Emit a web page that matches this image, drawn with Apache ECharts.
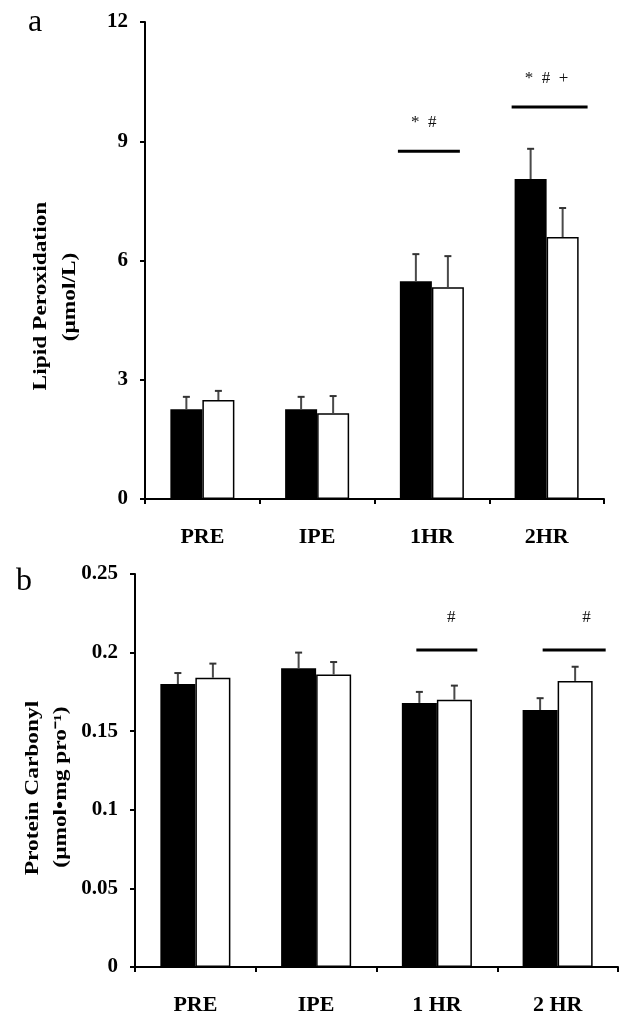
<!DOCTYPE html>
<html>
<head>
<meta charset="utf-8">
<script src="https://cdn.jsdelivr.net/npm/echarts@6/dist/echarts.min.js"></script>
<style>
html,body{margin:0;padding:0;background:#fff;}
#chart{width:637px;height:1028px;}
</style>
</head>
<body>
<div id="chart"></div>
<script>
// ---- data ----
const categoriesA = ['PRE', 'IPE', '1HR', '2HR'];
const categoriesB = ['PRE', 'IPE', '1 HR', '2 HR'];
const ticksA = [0, 3, 6, 9, 12];
const ticksB = [0, 0.05, 0.1, 0.15, 0.2, 0.25];

const lipidBlack = [2.26, 2.26, 5.48, 8.05];
const lipidBlackSE = [0.31, 0.31, 0.68, 0.76];
const lipidWhite = [2.49, 2.16, 5.33, 6.59];
const lipidWhiteSE = [0.23, 0.43, 0.78, 0.73];

const carbBlack = [0.180, 0.190, 0.168, 0.1635];
const carbBlackSE = [0.007, 0.010, 0.007, 0.0075];
const carbWhite = [0.184, 0.186, 0.170, 0.182];
const carbWhiteSE = [0.009, 0.008, 0.009, 0.009];

const sigCatsA = [2, 3];
const sigLevelsA = [8.75, 9.86];
const sigLabelLevelsA = [9.46, 10.59];
const sigLabelsA = ['*\u00a0\u00a0#', '*\u00a0\u00a0#\u00a0\u00a0+'];

const sigCatsB = [2, 3];
const sigLevelsB = [0.2017, 0.2017];
const sigLabelLevelsB = [0.2226, 0.2226];
const sigLabelsB = ['#', '#'];

// ---- layout constants (band-width fractions) ----
const barPctA = 0.279, barPctB = 0.29;
const sigSpanA = [[-0.296, 0.244], [-0.305, 0.357]];
const sigTextOffA = [-0.07, 0.0];
const sigSpanB = [[-0.17, 0.335], [-0.124, 0.398]];
const sigTextOffB = [0.12, 0.24];

const SERIF = '"Liberation Serif", "Times New Roman", serif';

function errData(means, ses) {
  return means.map((m, i) => [i, m, m + ses[i]]);
}
function errRender(side, pct) {
  return function (params, api) {
    const cat = api.value(0), mean = api.value(1), up = api.value(2);
    const band = api.size([1, 0])[0];
    const p0 = api.coord([cat, mean]);
    const p1 = api.coord([cat, up]);
    const x = p0[0] + side * band * pct / 2;
    return {
      type: 'group',
      children: [
        { type: 'line', shape: { x1: x, y1: p0[1], x2: x, y2: p1[1] }, style: { stroke: '#4a4a4a', lineWidth: 2 } },
        { type: 'line', shape: { x1: x - 3.5, y1: p1[1], x2: x + 3.5, y2: p1[1] }, style: { stroke: '#333', lineWidth: 2 } }
      ]
    };
  };
}
function sigData(cats, levels, labelLevels) {
  return cats.map((c, i) => [c, levels[i], labelLevels[i], i]);
}
function sigRender(spans, offs, labels) {
  return function (params, api) {
    const cat = api.value(0), lvl = api.value(1), tl = api.value(2), k = api.value(3);
    const band = api.size([1, 0])[0];
    const p = api.coord([cat, lvl]);
    const t = api.coord([cat, tl]);
    return {
      type: 'group',
      children: [
        { type: 'line', shape: { x1: p[0] + spans[k][0] * band, y1: p[1], x2: p[0] + spans[k][1] * band, y2: p[1] },
          style: { stroke: '#000', lineWidth: 3 } },
        { type: 'text', x: t[0] + offs[k] * band, y: t[1],
          style: { text: labels[k], fill: '#111', font: '17px ' + SERIF, align: 'center', verticalAlign: 'middle' } }
      ]
    };
  };
}

const axisLabelCat = { color: '#000', fontFamily: SERIF, fontWeight: 'bold', fontSize: 22, margin: 27 };
const axisLabelVal = { color: '#000', fontFamily: SERIF, fontWeight: 'bold', fontSize: 21, margin: 17 };

const chart = echarts.init(document.getElementById('chart'), null, { renderer: 'canvas' });
chart.setOption({
  backgroundColor: '#fff',
  animation: false,
  grid: [
    { left: 145, top: 22, width: 459, height: 477 },
    { left: 135, top: 574, width: 483, height: 393 }
  ],
  xAxis: [
    { type: 'category', gridIndex: 0, data: categoriesA,
      axisLine: { lineStyle: { color: '#000', width: 2 } },
      axisTick: { show: true, length: 5, lineStyle: { color: '#000', width: 2 } },
      axisLabel: axisLabelCat },
    { type: 'category', gridIndex: 1, data: categoriesB,
      axisLine: { lineStyle: { color: '#000', width: 2 } },
      axisTick: { show: true, length: 5, lineStyle: { color: '#000', width: 2 } },
      axisLabel: axisLabelCat }
  ],
  yAxis: [
    { type: 'value', gridIndex: 0, min: ticksA[0], max: ticksA[ticksA.length - 1], interval: ticksA[1] - ticksA[0],
      splitLine: { show: false },
      axisLine: { show: true, lineStyle: { color: '#000', width: 2 } },
      axisTick: { show: true, length: 5, lineStyle: { color: '#000', width: 2 } },
      axisLabel: axisLabelVal },
    { type: 'value', gridIndex: 1, min: ticksB[0], max: ticksB[ticksB.length - 1], interval: 0.05,
      splitLine: { show: false },
      axisLine: { show: true, lineStyle: { color: '#000', width: 2 } },
      axisTick: { show: true, length: 5, lineStyle: { color: '#000', width: 2 } },
      axisLabel: Object.assign({}, axisLabelVal, { formatter: v => String(+v.toFixed(2)) }) }
  ],
  series: [
    { type: 'bar', xAxisIndex: 0, yAxisIndex: 0, data: lipidBlack, barWidth: (barPctA * 100) + '%', barGap: '0%',
      itemStyle: { color: '#000' } },
    { type: 'bar', xAxisIndex: 0, yAxisIndex: 0, data: lipidWhite, barWidth: (barPctA * 100) + '%', barGap: '0%',
      itemStyle: { color: '#fff', borderColor: '#000', borderWidth: 1.5 } },
    { type: 'custom', xAxisIndex: 0, yAxisIndex: 0, data: errData(lipidBlack, lipidBlackSE), renderItem: errRender(-1, barPctA), z: 5 },
    { type: 'custom', xAxisIndex: 0, yAxisIndex: 0, data: errData(lipidWhite, lipidWhiteSE), renderItem: errRender(1, barPctA), z: 5 },
    { type: 'custom', xAxisIndex: 0, yAxisIndex: 0, data: sigData(sigCatsA, sigLevelsA, sigLabelLevelsA),
      renderItem: sigRender(sigSpanA, sigTextOffA, sigLabelsA), z: 5, clip: false },

    { type: 'bar', xAxisIndex: 1, yAxisIndex: 1, data: carbBlack, barWidth: (barPctB * 100) + '%', barGap: '0%',
      itemStyle: { color: '#000' } },
    { type: 'bar', xAxisIndex: 1, yAxisIndex: 1, data: carbWhite, barWidth: (barPctB * 100) + '%', barGap: '0%',
      itemStyle: { color: '#fff', borderColor: '#000', borderWidth: 1.5 } },
    { type: 'custom', xAxisIndex: 1, yAxisIndex: 1, data: errData(carbBlack, carbBlackSE), renderItem: errRender(-1, barPctB), z: 5 },
    { type: 'custom', xAxisIndex: 1, yAxisIndex: 1, data: errData(carbWhite, carbWhiteSE), renderItem: errRender(1, barPctB), z: 5 },
    { type: 'custom', xAxisIndex: 1, yAxisIndex: 1, data: sigData(sigCatsB, sigLevelsB, sigLabelLevelsB),
      renderItem: sigRender(sigSpanB, sigTextOffB, sigLabelsB), z: 5, clip: false }
  ],
  graphic: [
    { type: 'text', x: 35, y: 23, style: { text: 'a', font: '32px ' + SERIF, fill: '#000', align: 'center', verticalAlign: 'middle' } },
    { type: 'text', x: 24, y: 582, style: { text: 'b', font: '32px ' + SERIF, fill: '#000', align: 'center', verticalAlign: 'middle' } },
    { type: 'text', x: 41, y: 296, rotation: Math.PI / 2, scaleX: 1.3,
      style: { text: 'Lipid Peroxidation', font: 'bold 18px ' + SERIF, fill: '#000', align: 'center', verticalAlign: 'middle' } },
    { type: 'text', x: 70, y: 297, rotation: Math.PI / 2, scaleX: 1.3,
      style: { text: '(\u03bcmol/L)', font: 'bold 18px ' + SERIF, fill: '#000', align: 'center', verticalAlign: 'middle' } },
    { type: 'text', x: 33, y: 788, rotation: Math.PI / 2, scaleX: 1.3,
      style: { text: 'Protein Carbonyl', font: 'bold 18px ' + SERIF, fill: '#000', align: 'center', verticalAlign: 'middle' } },
    { type: 'text', x: 61, y: 787, rotation: Math.PI / 2, scaleX: 1.3,
      style: { text: '(\u03bcmol\u2022mg pro\u207b\u00b9)', font: 'bold 18px ' + SERIF, fill: '#000', align: 'center', verticalAlign: 'middle' } }
  ]
});
</script>
</body>
</html>
